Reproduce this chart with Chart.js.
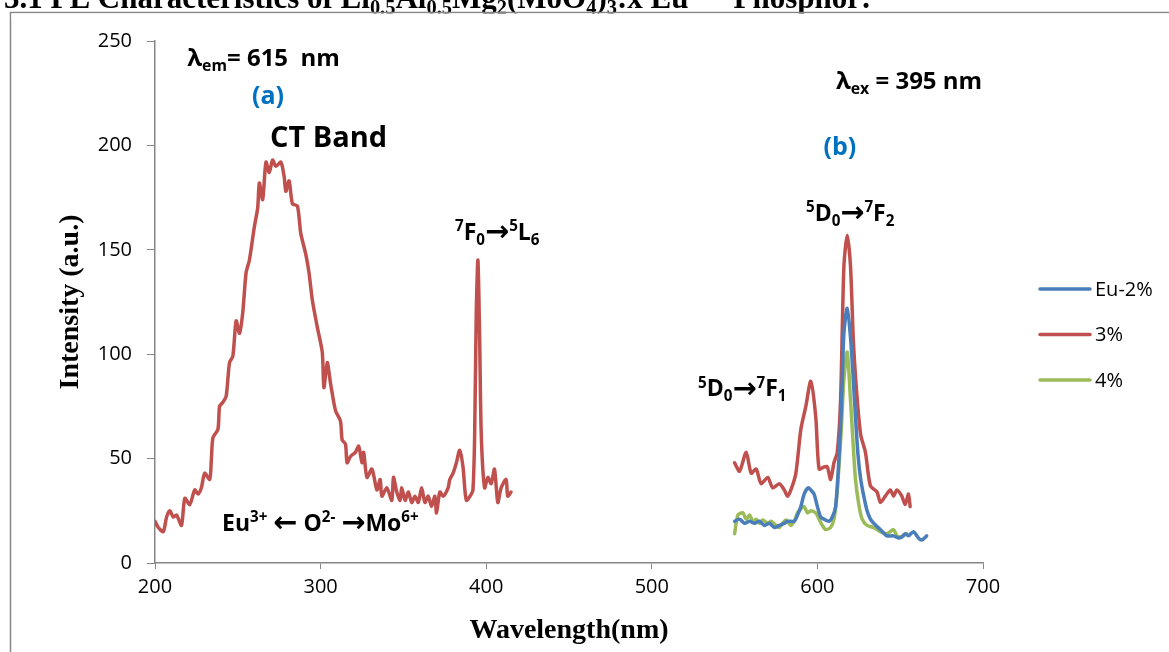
<!DOCTYPE html>
<html>
<head>
<meta charset="utf-8">
<script src="https://cdn.jsdelivr.net/npm/chart.js@4/dist/chart.umd.min.js"></script>
<style>
html,body{margin:0;padding:0;background:#fff;}
#wrap{width:1169px;height:652px;position:relative;}
</style>
</head>
<body>
<div id="wrap"><canvas id="c" width="1169" height="652"></canvas></div>
<script>
// ---------- DATA ----------
const seriesLabels = ['Eu-2%', '3%', '4%'];
const seriesColors = ['#4A7EBB', '#C0504D', '#9BBB59'];

// 3% excitation spectrum (lambda_em = 615 nm)
const exc3X = [200,202,205,207,209,211,213,216,218,221,224,226,228,230,233,234,235,238,239,241,243,245,247,249,251,253,255,257,260,262,263,265,267,269,271,273,276,278,279,281,283,286,288,291,293,295,298,301,302,304,306,309,312,313,315,316,318,321,323,325,326,328,331,334,336,337,340,343,344,346,348,349,351,353,355,357,359,361,363,365,367,369,370,372,374,377,378,380,382,384,386,388,391,392,393,394,395,396,397,399,401,403,405,407,409,412,413,415];
const exc3Y = [20,17,15,22,25,22,23,18,31,28,35,33,36,43,40,49,60,64,75,77,80,96,99,116,110,120,139,145,161,170,182,174,192,187,193,190,192,185,178,183,172,171,158,148,139,126,113,101,84,96,86,73,68,59,57,48,51,53,56,48,53,41,45,35,40,32,36,30,41,34,30,36,30,34,29,32,29,36,29,32,27,32,24,34,32,36,40,43,48,54,46,30,33,35,60,120,145,110,62,36,41,38,45,29,36,40,32,34];

// 3% emission spectrum (lambda_ex = 395 nm)
const em3X = [550,553,557,560,563,566,570,573,577,580,582,584,587,590,593,596,599,601,604,606,608,610,612,614,616,618,620,622,626,629,632,636,638,641,644,646,648,651,653,655,656];
const em3Y = [48,44,53,43,45,38,41,36,38,35,32,35,43,64,75,87,70,45,46,46,40,48,53,78,142,157,142,102,62,53,37,34,29,32,35,32,35,32,28,33,27];

// Eu-2% emission spectrum
const em2X = [550,553,556,559,562,565,568,571,574,577,580,582,586,588,590,592,594.5,596,598,600,602,604,607,609,611,613,614.5,616,618,620,621.5,623,624.5,626,628,630,632,634,638,642,646,649,651,653,655,658,661,663,666];
const em2Y = [20,21,19,20,19,20,18,19,17,18,19,20,20,23,27,33,36,35,33,27,22,21,20,22,27,50,75,110,122,108,90,70,52,41,32,25,21,19,16,13,13,12,12.5,14,13,15,12,11,13];

// 4% emission spectrum
const em4X = [550,552,555,557,559,561,563,565,567,570,572,575,577,579,581,584,586,588,590,592,594,596,599,601,603,605,608,610,611.5,613,614.5,616,618,620,621.5,623,625,627,630,634,638,642,646,648,650,652,654];
const em4Y = [14,23,24,21,23,20,21,19,20.6,19,20,18,17,19,20.6,18,20,24,26,27,24,25,24,21,18,16,17,21,30,46,65,88,101,78,58,40,28,21,18,17,15,14,16,13,12.5,13,14];

const xTicks = [200,300,400,500,600,700];
const yTicks = [0,50,100,150,200,250];

// ---------- build datasets ----------
function pts(xs, ys){ return xs.map((x,i)=>({x:x, y:ys[i]})); }
const red = pts(exc3X, exc3Y).concat([{x:(exc3X[exc3X.length-1]+em3X[0])/2, y:null}], pts(em3X, em3Y));

const datasets = [
  {label:seriesLabels[0], data:pts(em2X, em2Y), borderColor:seriesColors[0]},
  {label:seriesLabels[1], data:red, borderColor:seriesColors[1]},
  {label:seriesLabels[2], data:pts(em4X, em4Y), borderColor:seriesColors[2]}
].map(d=>Object.assign(d,{borderWidth:3.5, pointRadius:0, fill:false, spanGaps:false, tension:0.25, borderJoinStyle:'round', borderCapStyle:'round'}));

// ---------- annotations (in data coordinates) ----------
const SANS = '"Open Sans", "DejaVu Sans", sans-serif';
const SERIF = '"Liberation Serif", "Times New Roman", serif';
const annotations = [
  {x:219.5, y:242.3, size:24, align:'left', color:'#000', segs:[['λ'],['em','sub'],['= 615  nm']]},
  {x:268.2, y:224.1, size:25, align:'center', color:'#0070C0', segs:[['(a)']]},
  {x:269.4, y:204.2, size:29, align:'left', color:'#000', segs:[['CT Band']]},
  {x:381.2, y:158.8, size:23, align:'left', color:'#000', segs:[['7','sup'],['F'],['0','sub'],['→','big'],['5','sup'],['L'],['6','sub']]},
  {x:240.5, y:19.4, size:23, align:'left', color:'#000', segs:[['Eu'],['3+','sup'],[' '],['←','big'],[' O'],['2-','sup'],[' '],['→','big'],['Mo'],['6+','sup']]},
  {x:611.2, y:231.3, size:24, align:'left', color:'#000', segs:[['λ'],['ex','sub'],[' = 395 nm']]},
  {x:613.6, y:199.7, size:25, align:'center', color:'#0070C0', segs:[['(b)']]},
  {x:593.1, y:167.8, size:23, align:'left', color:'#000', segs:[['5','sup'],['D'],['0','sub'],['→','big'],['7','sup'],['F'],['2','sub']]},
  {x:527.9, y:83.8, size:23, align:'left', color:'#000', segs:[['5','sup'],['D'],['0','sub'],['→','big'],['7','sup'],['F'],['1','sub']]}
];

function segSize(s, size){ return s[1]==='big' ? size*1.25 : (s[1] ? size*0.66 : size); }
function richWidth(ctx, segs, size, weight, family){
  let w = 0;
  segs.forEach(s=>{
    ctx.font = weight+' '+segSize(s,size)+'px '+family;
    w += ctx.measureText(s[0]).width;
  });
  return w;
}
function drawRich(ctx, segs, x, cy, size, align, color, weight, family){
  const w = richWidth(ctx, segs, size, weight, family);
  let cx = align==='center' ? x - w/2 : x;
  const base = cy + size*0.36;
  ctx.fillStyle = color;
  ctx.textBaseline = 'alphabetic';
  ctx.textAlign = 'left';
  segs.forEach(s=>{
    ctx.font = weight+' '+segSize(s,size)+'px '+family;
    let by = base;
    if (s[1]==='sup') by = base - size*0.38;
    if (s[1]==='sub') by = base + size*0.22;
    if (s[1]==='big') by = base + size*0.06;
    ctx.fillText(s[0], cx, by);
    cx += ctx.measureText(s[0]).width;
  });
}

const decorPlugin = {
  id:'decor',
  beforeDraw(chart){
    const ctx = chart.ctx;
    ctx.save();
    ctx.fillStyle = '#fff';
    ctx.fillRect(0,0,chart.width,chart.height);
    // clipped document heading above the chart
    drawRich(ctx, [['3.1 PL Characteristics of Li'],['0.5','sub'],['Al'],['0.5','sub'],['Mg'],['2','sub'],['(MoO'],['4','sub'],[')'],['3','sub'],[':x Eu'],['3+','sup'],['   Phosphor:']],
      4, -3.5, 31, 'left', '#000', 'bold', SERIF);
    // outer frame
    ctx.strokeStyle = '#868686';
    ctx.lineWidth = 1.5;
    ctx.beginPath();
    ctx.moveTo(10.5, chart.height);
    ctx.lineTo(10.5, 12.5);
    ctx.lineTo(chart.width, 12.5);
    ctx.stroke();
    ctx.fillStyle = '#fff';
    ctx.fillRect(11.5, 13.5, chart.width, 6);
    ctx.restore();
  },
  afterDraw(chart){
    const ctx = chart.ctx;
    const xs = chart.scales.x, ys = chart.scales.y;
    ctx.save();
    annotations.forEach(a=>{
      drawRich(ctx, a.segs, xs.getPixelForValue(a.x), ys.getPixelForValue(a.y), a.size, a.align, a.color, 'bold', SANS);
    });
    // legend
    const lx = 1040, ly0 = 289, gap = 45.5;
    chart.data.datasets.forEach((d,i)=>{
      const y = ly0 + i*gap;
      ctx.strokeStyle = d.borderColor;
      ctx.lineWidth = 3.5;
      ctx.lineCap = 'round';
      ctx.beginPath(); ctx.moveTo(lx, y); ctx.lineTo(lx+50, y); ctx.stroke();
      ctx.fillStyle = '#000';
      ctx.font = '20px '+SANS;
      ctx.textBaseline = 'middle';
      ctx.textAlign = 'left';
      ctx.fillText(d.label, lx+55, y+1);
    });
    ctx.restore();
  }
};

new Chart(document.getElementById('c'), {
  type:'line',
  data:{datasets:datasets},
  plugins:[decorPlugin],
  options:{
    responsive:false,
    animation:false,
    devicePixelRatio:1,
    layout:{padding:{left:10, top:41, right:186, bottom:0}},
    plugins:{legend:{display:false}, tooltip:{enabled:false}},
    scales:{
      x:{
        type:'linear', min:200, max:700,
        afterFit(s){ s.height = 89; },
        afterBuildTicks(s){ s.ticks = xTicks.map(v=>({value:v})); },
        grid:{drawOnChartArea:false, drawTicks:true, tickLength:6, color:'#868686'},
        border:{display:true, color:'#868686', width:1.5},
        ticks:{color:'#000', font:{family:SANS, size:20}, padding:6, maxRotation:0},
        title:{display:true, text:'Wavelength(nm)', color:'#000', font:{family:SERIF, size:28, weight:'bold'}, padding:{top:0, bottom:4}}
      },
      y:{
        type:'linear', min:0, max:250,
        afterFit(s){ s.width = 145; },
        afterBuildTicks(s){ s.ticks = yTicks.map(v=>({value:v})); },
        grid:{drawOnChartArea:false, drawTicks:true, tickLength:8, color:'#868686'},
        border:{display:true, color:'#868686', width:1.5},
        ticks:{color:'#000', font:{family:SANS, size:20}, padding:15},
        title:{display:true, text:'Intensity (a.u.)', color:'#000', font:{family:SERIF, size:28, weight:'bold'}, padding:{top:44, bottom:0}}
      }
    }
  }
});
</script>
</body>
</html>
